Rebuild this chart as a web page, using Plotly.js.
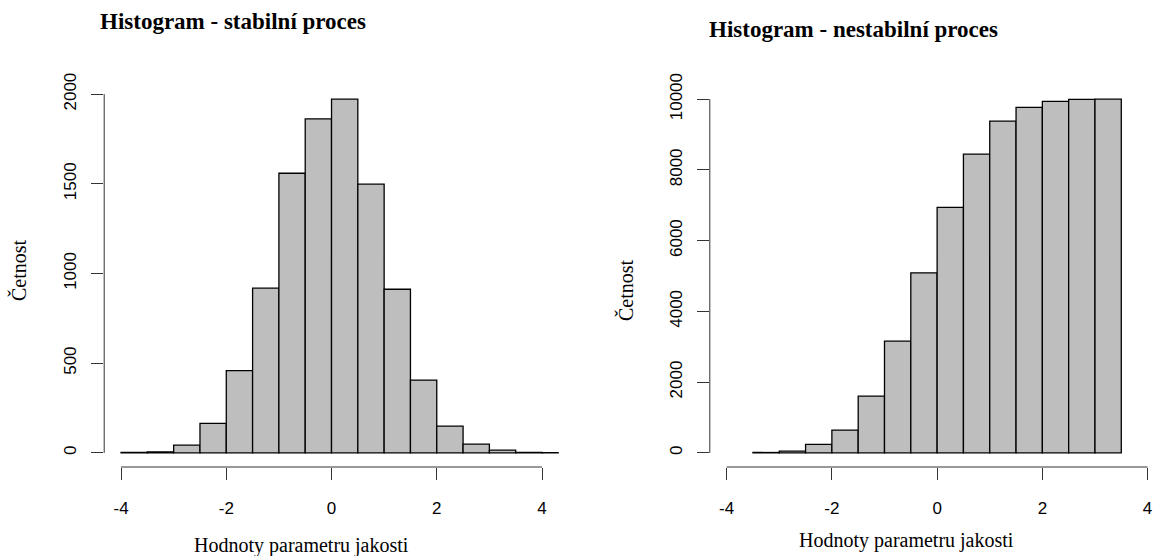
<!DOCTYPE html>
<html>
<head>
<meta charset="utf-8">
<script src="https://cdn.plot.ly/plotly-3.0.1.min.js"></script>
<style>html,body{margin:0;padding:0;background:#fff;}#chart{width:1157px;height:556px;}</style>
</head>
<body>
<div id="chart"></div>
<script>
// ---- data ----
const binWidth = 0.5;
const binStartsStable = [-4, -3.5, -3, -2.5, -2, -1.5, -1, -0.5, 0, 0.5, 1, 1.5, 2, 2.5, 3, 3.5, 4];
const countsStable    = [3, 6, 43, 164, 458, 918, 1559, 1862, 1972, 1498, 912, 406, 149, 49, 15, 3, 1];
const binStartsUnstable = [-3.5, -3, -2.5, -2, -1.5, -1, -0.5, 0, 0.5, 1, 1.5, 2, 2.5, 3];
const countsUnstable    = [10, 48, 237, 642, 1603, 3158, 5089, 6938, 8445, 9378, 9765, 9935, 9995, 10000];
const xTicks = [-4, -2, 0, 2, 4];
const yTicksStable = [0, 500, 1000, 1500, 2000];
const yTicksUnstable = [0, 2000, 4000, 6000, 8000, 10000];
const titleStable = 'Histogram - stabilní proces';
const titleUnstable = 'Histogram - nestabilní proces';
const xLabel = 'Hodnoty parametru jakosti';
const yLabel = 'Četnost';

// ---- layout geometry ----
const W = 1157, H = 556;
const xlim = [-4, 4];
const ext = 0.04 * (xlim[1] - xlim[0]);
const xr = [xlim[0] - ext, xlim[1] + ext];
const pxPerUnit = 52.62;
const plotTop = 85.0, plotBottom = 467.0;
const leftX0 = 104.2, leftX1 = leftX0 + (xr[1] - xr[0]) * pxPerUnit;
const rightX0 = 709.8, rightX1 = W;
const rightRange = [xr[0], xr[0] + (rightX1 - rightX0) / pxPerUnit];
const yDom = [1 - plotBottom / H, 1 - plotTop / H];

function centers(starts) { return starts.map(s => s + binWidth / 2); }
function yRange(counts) { const m = Math.max(...counts); return [-0.04 * m, 1.04 * m]; }

const axisColor = '#333';
const tickFont = {family: 'Liberation Sans, Arial, sans-serif', size: 17, color: '#000'};

const barStyle = {
  type: 'bar', width: binWidth,
  marker: {color: '#BEBEBE', line: {color: '#000', width: 1.3}},
  hoverinfo: 'skip', showlegend: false
};

const traces = [
  Object.assign({}, barStyle, {x: centers(binStartsStable), y: countsStable, xaxis: 'x', yaxis: 'y'}),
  Object.assign({}, barStyle, {x: centers(binStartsUnstable), y: countsUnstable, xaxis: 'x2', yaxis: 'y2'})
];

function xAxis(dom, range, anchor) {
  return {domain: dom, range: range, anchor: anchor, showgrid: false, zeroline: false, showline: false,
    tickmode: 'array', tickvals: xTicks, ticktext: xTicks.map(String),
    ticks: 'outside', ticklen: 12, tickwidth: 1, tickcolor: axisColor,
    tickfont: tickFont, ticklabelstandoff: 14, fixedrange: true};
}
function yAxis(range, ticks, anchor) {
  return {domain: yDom, range: range, anchor: anchor, showgrid: false, zeroline: false, showline: false,
    tickmode: 'array', tickvals: ticks, ticktext: ticks.map(String), tickangle: -90,
    ticks: 'outside', ticklen: 12, tickwidth: 1, tickcolor: axisColor,
    tickfont: tickFont, ticklabelstandoff: 8, fixedrange: true};
}

const leftDom = [leftX0 / W, leftX1 / W];
const rightDom = [rightX0 / W, rightX1 / W];

function axisLines(xref, yref, domX, yTicks) {
  return [
    {type: 'line', xref: xref, yref: 'paper', x0: Math.min(...xTicks), x1: Math.max(...xTicks), y0: yDom[0], y1: yDom[0],
     line: {color: axisColor, width: 1}},
    {type: 'line', xref: 'paper', yref: yref, x0: domX[0], x1: domX[0], y0: Math.min(...yTicks), y1: Math.max(...yTicks),
     line: {color: axisColor, width: 1}}
  ];
}

function ann(text, px, py, font, angle) {
  return {text: text, xref: 'paper', yref: 'paper', x: px / W, y: 1 - py / H,
    xanchor: 'center', yanchor: 'middle', showarrow: false, font: font, textangle: angle || 0};
}
const titleFont = {family: 'Liberation Serif, Times New Roman, serif', size: 23, color: '#000', weight: 'bold'};
const labelFont = {family: 'Liberation Serif, Times New Roman, serif', size: 20, color: '#000'};

const layout = {
  width: W, height: H, autosize: false,
  margin: {l: 0, r: 0, t: 0, b: 0, pad: 0},
  paper_bgcolor: '#fff', plot_bgcolor: '#fff',
  bargap: 0, showlegend: false,
  xaxis: xAxis(leftDom, xr, 'y'),
  yaxis: yAxis(yRange(countsStable), yTicksStable, 'x'),
  xaxis2: xAxis(rightDom, rightRange, 'y2'),
  yaxis2: yAxis(yRange(countsUnstable), yTicksUnstable, 'x2'),
  shapes: axisLines('x', 'y', leftDom, yTicksStable).concat(axisLines('x2', 'y2', rightDom, yTicksUnstable)),
  annotations: [
    ann('<b>' + titleStable + '</b>', 233, 22, titleFont),
    ann('<b>' + titleUnstable + '</b>', 853, 29, titleFont),
    ann(xLabel, 301, 545, labelFont),
    ann(xLabel, 906, 540, labelFont),
    ann(yLabel, 18, 270, labelFont, -90),
    ann(yLabel, 625, 290, labelFont, -90)
  ]
};

Plotly.newPlot('chart', traces, layout, {staticPlot: true, displayModeBar: false});
</script>
</body>
</html>
